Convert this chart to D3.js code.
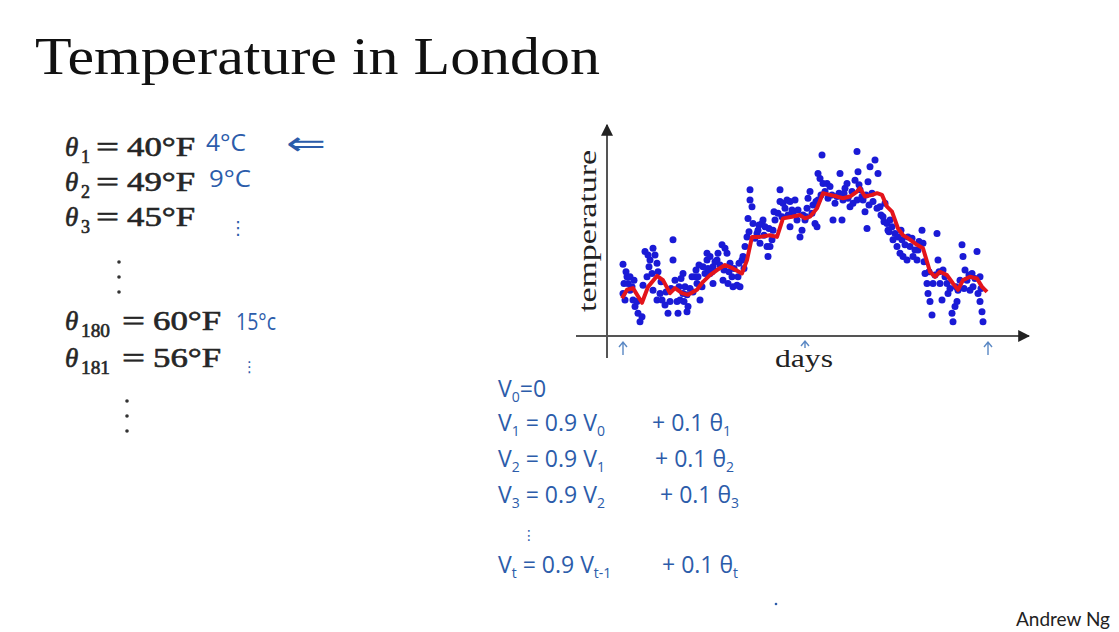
<!DOCTYPE html>
<html>
<head>
<meta charset="utf-8">
<script src="https://cdn.jsdelivr.net/npm/d3@7"></script>
<style>
  html, body { margin: 0; padding: 0; background: #fff; }
  svg { display: block; }
</style>
</head>
<body>
<svg id="chart" width="1119" height="632"></svg>
<script>
// ---------------- data ----------------
const titleText = "Temperature in London";
const xLabel = "days";
const yLabel = "temperature";
const author = "Andrew Ng";

// smoothed (exponentially weighted average) curve
const lineDays  = [1,6,12,21,27,36,42,49,54,61,67,76,82,89,96,104,112,121,126,131,139,149,156,162,171,179,184,189,196,202,209,216,222,229,236,239,244,251,256,261,266,271,277,282,287,296,302,309,314,319,326,332,337,342,349,356,361,366];
const lineTemps = [39.0,41.0,41.4,37.9,41.7,44.3,43.3,40.2,41.4,40.2,39.8,41.0,42.9,44.5,45.7,46.9,46.1,44.9,48.1,53.6,53.6,54.0,53.6,58.0,58.4,58.8,58.0,58.4,60.4,64.0,63.6,63.2,62.8,63.2,64.4,65.2,63.2,63.6,64.0,63.6,60.8,59.6,55.6,54.0,53.3,51.7,50.9,45.3,44.1,45.3,44.5,42.5,41.0,43.3,44.1,43.7,41.7,40.5];

// daily readings [day, °F]
const readings = [
[2,47.1],[6,44.1],[9,44.1],[7,42.5],[2,40.1],[4,38.6],[11,41.7],[12,38.6],[14,37.0],[17,35.4],[19,33.4],[21,34.6],[16,38.2],[9,40.9],
[24,50.1],[27,49.3],[32,50.9],[29,48.1],[36,47.3],[37,45.3],[31,44.9],[26,44.1],[32,40.9],[39,40.1],[41,38.6],[44,37.4],[47,35.4],[49,38.2],[36,38.6],
[52,52.9],[52,48.1],[54,43.3],[57,35.4],[56,38.2],[59,38.6],[62,44.9],[64,41.7],[66,39.8],[67,37.0],[66,35.8],[62,40.1],
[71,44.1],[74,44.1],[77,44.1],[76,42.5],[79,38.6],[81,41.7],[82,46.5],[86,49.7],[86,48.1],[89,48.9],[92,46.5],[92,42.5],[96,48.1],[97,49.7],[89,44.9],
[101,51.7],[104,50.9],[106,49.7],[109,47.3],[111,44.1],[107,42.5],[102,43.3],[112,41.7],[116,42.1],[117,44.1],[119,41.7],[121,48.1],[122,48.9],[126,53.6],[124,51.3],
[129,64.8],[129,62.4],[131,60.8],[127,58.0],[132,56.8],[136,54.4],[137,55.2],[141,56.8],[142,57.6],[146,51.3],[147,48.9],[149,51.3],[151,52.9],[144,56.0],[139,52.1],
[152,55.2],[154,57.6],[159,64.8],[159,62.0],[162,61.6],[166,62.4],[169,62.0],[171,60.0],[172,59.2],[176,57.6],[179,53.6],[181,55.2],[169,56.0],[174,62.4],
[184,57.6],[186,60.4],[187,62.8],[189,64.4],[191,59.2],[194,56.8],[196,56.0],[197,68.7],[199,67.5],[201,73.1],[202,66.3],[197,62.4],
[206,66.3],[209,65.6],[212,57.6],[216,63.2],[219,68.7],[221,57.6],[222,62.4],[224,65.2],[226,66.3],[229,60.8],
[231,64.4],[234,67.1],[236,73.9],[237,69.1],[239,64.8],[242,62.4],[244,59.6],[246,55.6],[247,66.7],[249,70.3],[236,62.4],
[251,64.0],[254,71.9],[257,68.7],[259,60.8],[262,58.4],[266,56.8],[267,55.2],[269,57.6],[264,61.6],
[272,52.9],[276,51.3],[279,49.7],[281,52.9],[282,48.9],[286,48.1],[289,51.3],[291,53.3],[292,48.9],[296,48.1],[297,50.5],[301,55.2],[302,52.1],
[304,44.9],[306,42.5],[307,40.1],[309,38.2],[311,35.0],[312,42.5],[316,54.4],[317,48.1],[319,42.5],[321,38.6],[322,45.7],[326,42.5],[327,40.1],
[331,35.4],[332,33.4],[334,37.0],[336,38.2],[337,40.9],[341,51.7],[342,48.9],[344,45.7],[346,43.3],[349,40.9],[351,44.9],[352,41.7],[356,50.1],[357,40.1],[359,38.2],[361,35.8],[362,33.4],[359,44.1],
[3,42.5],[5,45.3],[13,43.3],[22,42.1],[28,46.5],[34,49.3],[40,42.9],[45,40.5],[50,41.3],[58,41.7],[60,43.7],[63,38.2],[69,41.3],[72,40.5],[75,45.7],[78,46.9],[84,44.9],[87,46.1],[91,45.3],[94,47.7],[99,46.9],[103,45.7],[108,45.3],[113,46.1],[118,47.3],[123,46.1],
[128,54.8],[134,53.3],[138,56.4],[143,54.0],[148,55.6],[153,59.6],[157,59.2],[161,58.4],[164,60.4],[167,58.8],[177,60.0],[182,58.8],[185,58.4],[192,61.2],[195,62.0],[200,63.6],[204,64.4],[207,62.8],[211,63.6],[214,61.6],[218,64.0],[223,64.0],[227,62.8],[232,61.6],[238,66.0],[241,63.2],[245,63.6],[248,61.2],
[252,62.0],[256,60.4],[260,58.8],[263,57.2],[268,54.8],[271,56.0],[274,54.4],[277,53.6],[280,55.2],[284,51.7],[287,53.6],[294,50.5],[298,52.5],[303,47.7],[308,45.3],[314,44.5],[318,45.3],[324,44.1],[329,41.3],[335,41.7],[339,43.3],[343,41.3],[348,44.5],[354,43.7],[360,41.3]
];

// left column equations: [subscript, value]
const thetaRows = [["1","40°F"],["2","49°F"],["3","45°F"],["180","60°F"],["181","56°F"]];
// handwritten Celsius notes
const celsiusNotes = ["4°C","9°C","15°c"];
// days marked with small arrows under the axis
const markedDays = [1, 183, 366];

// ---------------- drawing ----------------
const svg = d3.select("#chart");
svg.append("rect").attr("width",1119).attr("height",632).attr("fill","#fff");

const x = d3.scaleLinear().domain([0, 366]).range([621, 987]);
const y = d3.scaleLinear().domain([30, 80]).range([336, 126]);

const axisColor = "#555";
const defs = svg.append("defs");
defs.append("marker").attr("id","arr").attr("viewBox","0 0 10 10")
  .attr("refX",9).attr("refY",5).attr("markerWidth",12).attr("markerHeight",12)
  .attr("orient","auto-start-reverse").attr("markerUnits","userSpaceOnUse")
  .append("path").attr("d","M0,0 L10,5 L0,10 Z").attr("fill","#222");

// axes (no ticks)
svg.append("line").attr("x1",607).attr("y1",358).attr("x2",607).attr("y2",125)
  .attr("stroke",axisColor).attr("stroke-width",2).attr("marker-end","url(#arr)");
svg.append("line").attr("x1",576).attr("y1",336).attr("x2",1029).attr("y2",336)
  .attr("stroke",axisColor).attr("stroke-width",2).attr("marker-end","url(#arr)");

// dots
svg.append("g").selectAll("circle").data(readings).join("circle")
  .attr("cx", d => x(d[0])).attr("cy", d => y(d[1])).attr("r", 3.5)
  .attr("fill", "#1a1ad6");

// smoothed line
const line = d3.line().x(d => x(d[0])).y(d => y(d[1]));
svg.append("path").datum(lineDays.map((d,i) => [d, lineTemps[i]]))
  .attr("d", line).attr("fill","none").attr("stroke","#e3141b")
  .attr("stroke-width",4).attr("stroke-linejoin","round");

// axis labels
const serif = "'Liberation Serif', 'DejaVu Serif', serif";
svg.append("text").attr("x",804).attr("y",367).attr("text-anchor","middle")
  .attr("font-family",serif).attr("font-size",25).attr("fill","#222")
  .attr("textLength",58).attr("lengthAdjust","spacingAndGlyphs").text(xLabel);
svg.append("text").attr("transform","translate(596,231) rotate(-90)")
  .attr("text-anchor","middle").attr("font-family",serif).attr("font-size",25)
  .attr("fill","#222").attr("textLength",162).attr("lengthAdjust","spacingAndGlyphs").text(yLabel);

// title
svg.append("text").attr("x",35).attr("y",74).attr("font-family",serif)
  .attr("font-size",52).attr("fill","#111").attr("textLength",565)
  .attr("lengthAdjust","spacingAndGlyphs").text(titleText);

// author
svg.append("text").attr("x",1016).attr("y",626).attr("font-family","Lato, 'Open Sans', sans-serif")
  .attr("font-size",19).attr("fill","#222").text(author);

// left equations
const rowY = [156, 191, 226, 330, 367];
thetaRows.forEach((r, i) => {
  const g = svg.append("g").attr("font-family",serif).attr("fill","#262626")
    .attr("stroke","#262626").attr("stroke-width",0.6);
  const long = r[0].length > 1;
  g.append("text").attr("x",65).attr("y",rowY[i]).attr("font-size",27).attr("font-style","italic").text("θ");
  g.append("text").attr("x",81).attr("y",rowY[i] + 7).attr("font-size",18)
    .attr("textLength", long ? 29 : 9).attr("lengthAdjust","spacingAndGlyphs").text(r[0]);
  const eqX = long ? 122 : 96;
  g.append("text").attr("x",eqX).attr("y",rowY[i]).attr("font-size",27)
    .attr("textLength",23).attr("lengthAdjust","spacingAndGlyphs").text("=");
  g.append("text").attr("x",eqX + 31).attr("y",rowY[i]).attr("font-size",27)
    .attr("textLength",68).attr("lengthAdjust","spacingAndGlyphs").text(r[1]);
});
// vertical ellipses
[[119,[262,277,292]],[127,[401,416,431]]].forEach(([cx, ys]) => {
  ys.forEach(cy => svg.append("circle").attr("cx",cx).attr("cy",cy).attr("r",1.8).attr("fill","#333"));
});

// handwritten notes (blue)
const hand = "'Open Sans', 'DejaVu Sans', sans-serif";
const blue = "#2c5caa";
function note(xp, yp, txt, size) {
  return svg.append("text").attr("x",xp).attr("y",yp).attr("font-family",hand)
    .attr("font-weight",400).attr("font-size",size || 23).attr("fill",blue).text(txt);
}
note(206,151,celsiusNotes[0]).attr("textLength",40).attr("lengthAdjust","spacingAndGlyphs");
note(286,155,"⇐",34).attr("textLength",40).attr("lengthAdjust","spacingAndGlyphs");
note(209,187,celsiusNotes[1]).attr("textLength",42).attr("lengthAdjust","spacingAndGlyphs");
note(236,330,celsiusNotes[2]).attr("textLength",40).attr("lengthAdjust","spacingAndGlyphs");
note(229,234,"⋮",18);
note(242,372,"⋮",15);

// arrows under x axis (drawn as paths)
const arrowG = svg.append("g").attr("stroke","#5a88c4").attr("stroke-width",1.4).attr("fill","none");
markedDays.forEach((d, i) => {
  const cx = x(d) + 1;
  const top = i === 1 ? 341 : 342;
  const bot = i === 1 ? 348 : 355;
  arrowG.append("path").attr("d", `M${cx},${bot} L${cx},${top} M${cx-4},${top+5} L${cx},${top} L${cx+4},${top+5}`);
});

// recurrence (handwritten)
function rich(xp, yp, parts) {
  const t = svg.append("text").attr("x",xp).attr("y",yp).attr("font-family",hand)
    .attr("font-weight",400).attr("font-size",23).attr("fill",blue);
  let shifted = false;
  parts.forEach(p => {
    const sub = Array.isArray(p);
    const s = sub ? p[0] : p;
    const ts = t.append("tspan").text(s);
    if (sub && !shifted) { ts.attr("dy",5).attr("font-size",14); shifted = true; }
    else if (sub) { ts.attr("font-size",14); }
    else if (!sub && shifted) { ts.attr("dy",-5); shifted = false; }
  });
  return t;
}
rich(498,397,["V",["0"],"=0"]);
rich(498,431,["V",["1"]," = 0.9 V",["0"]]);   rich(652,431,["+ 0.1 θ",["1"]]);
rich(498,467,["V",["2"]," = 0.9 V",["1"]]);   rich(655,467,["+ 0.1 θ",["2"]]);
rich(498,503,["V",["3"]," = 0.9 V",["2"]]);   rich(660,503,["+ 0.1 θ",["3"]]);
note(522,540,"⋮",14);
rich(498,573,["V",["t"]," = 0.9 V",["t-1"]]); rich(662,573,["+ 0.1 θ",["t"]]);
svg.append("circle").attr("cx",776).attr("cy",604).attr("r",1.3).attr("fill",blue);
</script>
</body>
</html>
